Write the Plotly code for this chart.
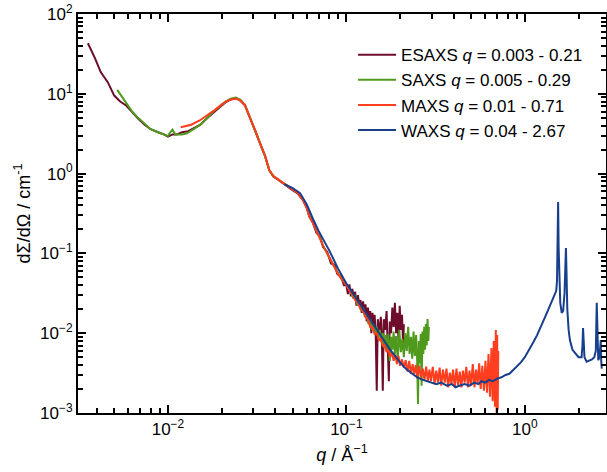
import plotly.graph_objects as go

# ---------------- data ----------------
ESAXS_q = [0.00356, 0.0039, 0.0042, 0.0046, 0.0050, 0.0054, 0.0058, 0.0063, 0.0068, 0.0074,
           0.0080, 0.0088, 0.0095, 0.0100, 0.0106, 0.0112, 0.0120, 0.0130, 0.0140, 0.0152,
           0.0165, 0.0180, 0.0195, 0.0210, 0.0225, 0.0240, 0.0255, 0.0270, 0.0290, 0.0310,
           0.0330, 0.0350, 0.0370, 0.0390, 0.0420, 0.0450, 0.0490, 0.0530, 0.0570, 0.0600,
           0.0620, 0.0650, 0.0680, 0.0710, 0.0740, 0.0780, 0.0820, 0.0860, 0.0890, 0.0930,
           0.0970,
           0.100, 0.102, 0.104, 0.106, 0.108, 0.110, 0.112, 0.114, 0.116, 0.118,
           0.120, 0.122, 0.124, 0.126, 0.128, 0.130, 0.132, 0.134, 0.136, 0.138,
           0.140, 0.142, 0.144, 0.146, 0.148, 0.150, 0.153, 0.156, 0.158, 0.160,
           0.162, 0.165, 0.168, 0.170, 0.173, 0.175, 0.178, 0.181, 0.184, 0.187,
           0.190, 0.193, 0.196, 0.199, 0.202, 0.205, 0.208, 0.210]
ESAXS_I = [43, 28, 18.7, 14, 9.5, 8.0, 7.2, 5.8, 4.9, 4.1,
           3.6, 3.3, 3.1, 2.9, 3.1, 3.1, 3.3, 3.4, 3.7, 4.1,
           4.9, 5.9, 6.8, 7.8, 8.5, 8.8, 8.2, 7.2, 4.8, 3.4,
           2.3, 1.68, 1.1, 0.92, 0.82, 0.73, 0.64, 0.57, 0.47, 0.37,
           0.29, 0.24, 0.18, 0.165, 0.12, 0.105, 0.075, 0.072, 0.055, 0.052,
           0.040,
           0.040, 0.031, 0.041, 0.029, 0.036, 0.028, 0.033, 0.022, 0.030, 0.023,
           0.026, 0.018, 0.025, 0.018, 0.023, 0.014, 0.021, 0.015, 0.019, 0.010,
           0.018, 0.013, 0.017, 0.010, 0.0019, 0.015, 0.010, 0.016, 0.009, 0.0019,
           0.015, 0.011, 0.019, 0.009, 0.0025, 0.014, 0.010, 0.021, 0.012, 0.024,
           0.010, 0.018, 0.008, 0.022, 0.011, 0.017, 0.007, 0.013]

SAXS_q = [0.0052, 0.0055, 0.0058, 0.0063, 0.0068, 0.0074, 0.0080, 0.0088, 0.0095, 0.0100,
          0.0103, 0.0106, 0.0110, 0.0120, 0.0128, 0.0140, 0.0152, 0.0165, 0.0180, 0.0195,
          0.0210, 0.0225, 0.0240, 0.0255, 0.0270, 0.0290, 0.0310, 0.0330, 0.0350, 0.0370,
          0.0390, 0.0420, 0.0450, 0.0490, 0.0530, 0.0570, 0.0600, 0.0620, 0.0650, 0.0680,
          0.0710, 0.0740, 0.0780, 0.0820, 0.0860, 0.0900, 0.0950,
          0.100, 0.103, 0.106, 0.109, 0.112, 0.115, 0.118, 0.121, 0.124, 0.127,
          0.130, 0.133, 0.136, 0.139, 0.142, 0.145, 0.148, 0.151, 0.154, 0.157,
          0.160, 0.163, 0.166, 0.169, 0.172, 0.175, 0.178, 0.181, 0.184, 0.187,
          0.190, 0.194, 0.198, 0.202, 0.206, 0.210, 0.214, 0.218, 0.222, 0.226,
          0.230, 0.234, 0.238, 0.242, 0.246, 0.249, 0.252, 0.255, 0.258, 0.261,
          0.264, 0.267, 0.270, 0.273, 0.276, 0.279, 0.282, 0.285, 0.288, 0.290]
SAXS_I = [11.2, 9.3, 8.0, 6.0, 5.0, 4.2, 3.6, 3.3, 3.05, 2.95,
          3.3, 3.55, 3.1, 3.1, 3.2, 3.6, 4.1, 4.9, 6.0, 7.0,
          8.0, 8.7, 9.0, 8.4, 7.3, 4.9, 3.4, 2.3, 1.65, 1.1,
          0.93, 0.83, 0.74, 0.65, 0.58, 0.48, 0.38, 0.30, 0.25, 0.19,
          0.16, 0.125, 0.10, 0.080, 0.068, 0.056, 0.047,
          0.041, 0.036, 0.033, 0.028, 0.030, 0.023, 0.024, 0.019, 0.021, 0.016,
          0.017, 0.013, 0.015, 0.011, 0.013, 0.0095, 0.012, 0.0085, 0.011, 0.0078,
          0.010, 0.0065, 0.0095, 0.0060, 0.0098, 0.0045, 0.0090, 0.0062, 0.0105, 0.0055,
          0.0092, 0.0048, 0.0110, 0.0058, 0.0085, 0.0050, 0.0100, 0.0060, 0.0120, 0.0055,
          0.0090, 0.0048, 0.0105, 0.0052, 0.0095, 0.0050, 0.0013, 0.0080, 0.0042, 0.0098,
          0.0022, 0.0105, 0.0055, 0.0120, 0.0062, 0.0130, 0.0070, 0.0150, 0.0080, 0.0120]

MAXS_q = [0.0118, 0.0125, 0.0135, 0.0150, 0.0165, 0.0180, 0.0195, 0.0210, 0.0225, 0.0240,
          0.0255, 0.0270, 0.0290, 0.0310, 0.0330, 0.0350, 0.0370, 0.0390, 0.0420, 0.0450,
          0.0490, 0.0530, 0.0570, 0.0600, 0.0620, 0.0650, 0.0680, 0.0710, 0.0740, 0.0780,
          0.0820, 0.0860, 0.0900, 0.0950,
          0.100, 0.104, 0.108, 0.112, 0.116, 0.120, 0.124, 0.128, 0.132, 0.136,
          0.140, 0.144, 0.148, 0.152, 0.156, 0.160, 0.164, 0.168, 0.172, 0.176,
          0.180, 0.184, 0.188, 0.192, 0.196, 0.200, 0.205, 0.210, 0.215, 0.220,
          0.225, 0.230, 0.235, 0.240, 0.245, 0.250, 0.256, 0.262, 0.268, 0.274,
          0.280, 0.286, 0.292, 0.298, 0.305, 0.312, 0.319, 0.326, 0.333, 0.340,
          0.348, 0.356, 0.364, 0.372, 0.380, 0.388, 0.396, 0.405, 0.414, 0.423,
          0.432, 0.441, 0.450, 0.460, 0.470, 0.480, 0.490, 0.500, 0.511, 0.522,
          0.533, 0.544, 0.555, 0.566, 0.578, 0.590, 0.602, 0.614, 0.626, 0.638,
          0.650, 0.660, 0.670, 0.680, 0.688, 0.695, 0.700, 0.705, 0.710]
MAXS_I = [3.8, 3.9, 4.1, 4.6, 5.3, 6.1, 7.0, 7.9, 8.5, 8.7,
          8.2, 7.2, 4.8, 3.4, 2.3, 1.66, 1.1, 0.93, 0.83, 0.74,
          0.65, 0.58, 0.47, 0.37, 0.29, 0.24, 0.19, 0.155, 0.125, 0.10,
          0.080, 0.066, 0.055, 0.046,
          0.040, 0.034, 0.031, 0.026, 0.024, 0.020, 0.019, 0.016, 0.015, 0.012,
          0.012, 0.0098, 0.0100, 0.0082, 0.0086, 0.0068, 0.0072, 0.0058, 0.0064, 0.0050,
          0.0058, 0.0045, 0.0054, 0.0041, 0.0052, 0.0039, 0.0047, 0.0037, 0.0046, 0.0033,
          0.0045, 0.0031, 0.0041, 0.0031, 0.0040, 0.0027, 0.0039, 0.0028, 0.0036, 0.0026,
          0.0038, 0.0025, 0.0035, 0.0025, 0.0038, 0.0023, 0.0034, 0.0024, 0.0037, 0.0022,
          0.0035, 0.0024, 0.0036, 0.0021, 0.0032, 0.0023, 0.0035, 0.0021, 0.0036, 0.0022,
          0.0033, 0.0021, 0.0034, 0.0024, 0.0038, 0.0021, 0.0034, 0.0022, 0.0041, 0.0021,
          0.0035, 0.0023, 0.0042, 0.0020, 0.0039, 0.0019, 0.0045, 0.0018, 0.0055, 0.0016,
          0.0065, 0.0014, 0.0080, 0.0012, 0.0110, 0.0010, 0.0095, 0.0011, 0.0060]

WAXS_q = [0.045, 0.050, 0.055, 0.060, 0.065, 0.070, 0.080, 0.090, 0.100, 0.115,
          0.130, 0.154, 0.175, 0.200, 0.215, 0.230, 0.250, 0.268, 0.285, 0.300,
          0.320, 0.340, 0.366, 0.390, 0.410, 0.430, 0.460, 0.490, 0.520, 0.550,
          0.570, 0.600, 0.630, 0.660, 0.700, 0.740, 0.780, 0.820, 0.856, 0.900,
          0.950, 1.000, 1.030, 1.080, 1.120, 1.170, 1.210, 1.260, 1.300, 1.350,
          1.400, 1.430, 1.470, 1.500, 1.515, 1.527, 1.537, 1.547, 1.560, 1.580,
          1.610, 1.640, 1.670, 1.690, 1.700, 1.712, 1.730, 1.760, 1.790, 1.850,
          1.910, 2.000, 2.080, 2.105, 2.120, 2.135, 2.160, 2.220, 2.300, 2.380,
          2.450, 2.500, 2.530, 2.550, 2.580, 2.620, 2.650, 2.665, 2.680, 2.700]
WAXS_I = [0.74, 0.66, 0.57, 0.41, 0.27, 0.19, 0.11, 0.064, 0.042, 0.026,
          0.017, 0.0095, 0.0063, 0.0043, 0.0036, 0.0032, 0.0028, 0.0026, 0.0025, 0.0024,
          0.0023, 0.0024, 0.0022, 0.0023, 0.0021, 0.0022, 0.0023, 0.0022, 0.0024, 0.0023,
          0.0025, 0.0024, 0.0026, 0.0025, 0.0027, 0.0028, 0.0030, 0.0031, 0.0034, 0.0038,
          0.0043, 0.0050, 0.0056, 0.0066, 0.0078, 0.0094, 0.011, 0.0135, 0.016, 0.0195,
          0.024, 0.026, 0.030, 0.034, 0.045, 0.12, 0.44, 0.12, 0.040, 0.024,
          0.018, 0.019, 0.032, 0.070, 0.117, 0.060, 0.020, 0.011, 0.0082, 0.0062,
          0.0056, 0.0050, 0.0050, 0.0070, 0.0116, 0.0065, 0.0050, 0.0044, 0.0045, 0.0047,
          0.0050, 0.0060, 0.024, 0.0070, 0.0046, 0.0050, 0.0065, 0.0082, 0.0045, 0.0036]

SERIES_NAMES = ["ESAXS <i>q</i> = 0.003 - 0.21",
                "SAXS <i>q</i> = 0.005 - 0.29",
                "MAXS <i>q</i> = 0.01 - 0.71",
                "WAXS <i>q</i> = 0.04 - 2.67"]
SERIES_COLORS = ["#6e0c2c", "#4f9a1c", "#ff3d1f", "#173f8c"]

X_TICKVALS = [0.01, 0.1, 1]
X_TICKTEXT = ["10<sup>\u22122</sup>", "10<sup>\u22121</sup>", "10<sup>0</sup>"]
Y_TICKVALS = [1e-3, 1e-2, 1e-1, 1, 10, 100]
Y_TICKTEXT = ["10<sup>\u22123</sup>", "10<sup>\u22122</sup>", "10<sup>\u22121</sup>",
              "10<sup>0</sup>", "10<sup>1</sup>", "10<sup>2</sup>"]
X_MINOR = [m * 10.0 ** e for e in (-3, -2, -1, 0) for m in range(2, 10)]
Y_MINOR = [m * 10.0 ** e for e in (-3, -2, -1, 0, 1) for m in range(2, 10)]

# ---------------- figure ----------------
FONT = "Liberation Sans, Arial, sans-serif"
fig = go.Figure()
data = [(ESAXS_q, ESAXS_I), (SAXS_q, SAXS_I), (MAXS_q, MAXS_I), (WAXS_q, WAXS_I)]
for (q, I), name, col in zip(data, SERIES_NAMES, SERIES_COLORS):
    fig.add_trace(go.Scatter(x=q, y=I, mode="lines", name=name,
                             line=dict(color=col, width=2)))

axis_common = dict(
    type="log", showgrid=False, zeroline=False, automargin=False,
    showline=True, linewidth=2, linecolor="black", mirror="allticks",
    ticks="inside", ticklen=8, tickwidth=1.5, tickcolor="black",
    tickfont=dict(family=FONT, size=17, color="black"),
    minor=dict(ticks="inside", ticklen=5, tickwidth=1.5, tickcolor="black", showgrid=False),
)
fig.update_xaxes(**axis_common)
fig.update_yaxes(**axis_common)
fig.update_xaxes(range=[-2.504, 0.455], tickmode="array", tickvals=X_TICKVALS, ticktext=X_TICKTEXT,
                 minor_tickvals=X_MINOR, minor_tickmode="array",
                 title=dict(text="<i>q</i> / \u00c5<sup>\u22121</sup>",
                            font=dict(family=FONT, size=18, color="black"), standoff=10))
fig.update_yaxes(range=[-3, 2], tickmode="array", tickvals=Y_TICKVALS, ticktext=Y_TICKTEXT,
                 minor_tickvals=Y_MINOR, minor_tickmode="array",
                 title=dict(text="d\u03a3/d\u03a9 / cm<sup>-1</sup>",
                            font=dict(family=FONT, size=18, color="black"), standoff=5))

fig.update_layout(
    width=607, height=472,
    margin=dict(l=78, r=1, t=14, b=59, autoexpand=False),
    plot_bgcolor="white", paper_bgcolor="white",
    showlegend=True,
    legend=dict(x=0.521, y=0.942, xanchor="left", yanchor="top",
                font=dict(family=FONT, size=17, color="black"),
                bgcolor="rgba(0,0,0,0)", borderwidth=0, itemwidth=38),
)

fig.write_html("out.html", config={"displayModeBar": False},
               post_script="document.body.style.margin='0';document.body.style.overflow='hidden';")
